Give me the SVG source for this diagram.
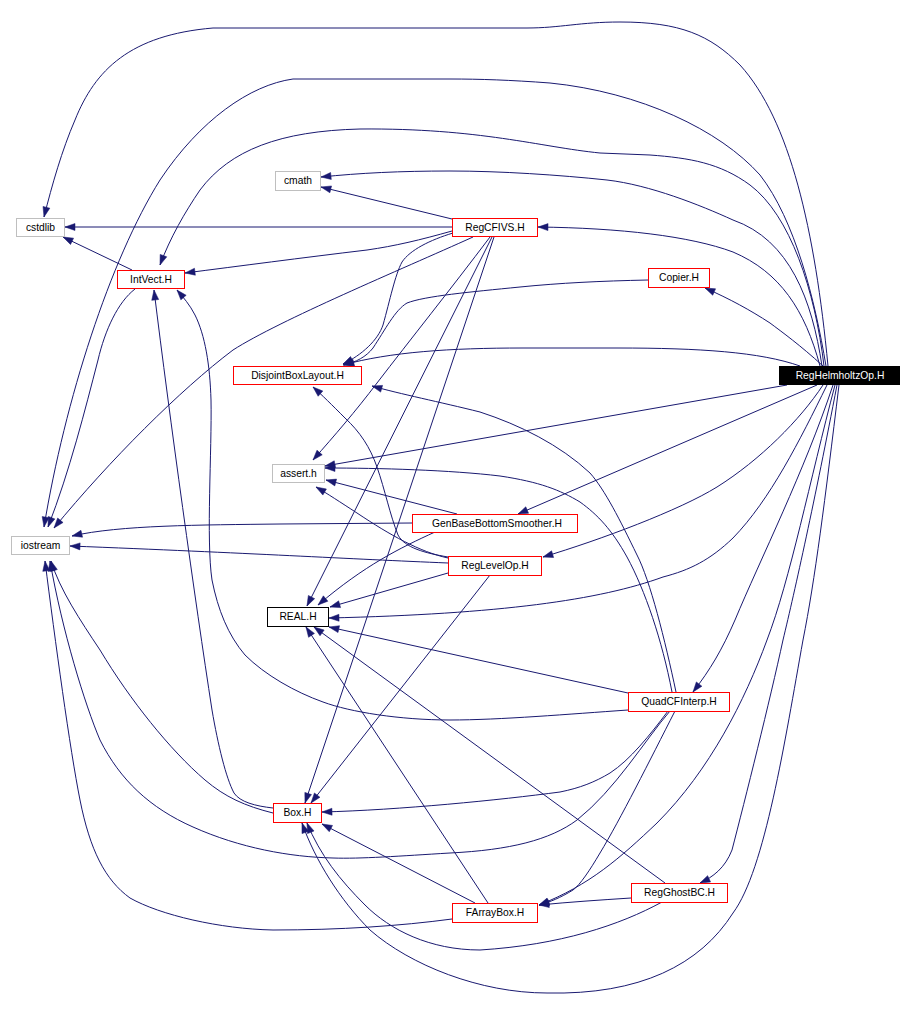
<svg xmlns="http://www.w3.org/2000/svg" width="912" height="1025" viewBox="0 0 912 1025">
<style>
.e{fill:none;stroke:#191970;stroke-width:1;marker-end:url(#a)}
.n rect{fill:#fff;stroke-width:1}
.r rect{stroke:#ff0000}
.g rect{stroke:#bfbfbf}
.k rect{stroke:#000}
text{font-family:"Liberation Sans",Arial,Helvetica,sans-serif;font-size:10.3px;text-anchor:middle;fill:#000}
</style>
<defs>
<marker id="a" markerUnits="userSpaceOnUse" markerWidth="10" markerHeight="8" refX="10" refY="4" orient="auto" overflow="visible">
<path d="M0,0.5 L10,4 L0,7.5 z" fill="#191970" stroke="#191970" stroke-width="0.5"/>
</marker>
</defs>
<rect width="912" height="1025" fill="#fff"/>
<g id="edges">
<!-- RegHelmholtzOp.H -->
<path class="e" d="M828,366 C815,230 790,120 740,65 C710,35 680,22 620,22 C580,22 560,28 527,28 L213,28 C130,35 95,70 75,120 C62,150 52,185 44,217"/>
<path class="e" d="M826,366 C815,300 795,220 760,175 C720,130 640,92 550,83 C510,80 480,79 450,79 L293,79 C250,85 200,120 160,180 C110,260 65,400 44,527"/>
<path class="e" d="M824,366 C815,290 790,215 750,185 C720,163 690,158 650,155 L600,153 C540,147 480,128 360,129 C280,131 230,150 200,190 C185,212 170,238 160,265"/>
<path class="e" d="M822,366 C812,300 790,240 733,220 C700,205 650,185 607,180 C560,175 500,171 450,171 C400,171 360,173 321,177"/>
<path class="e" d="M820,366 C805,310 780,272 733,252 C690,236 620,228 538,227"/>
<path class="e" d="M823,366 C800,345 782,332 770,323 C750,310 730,299 705,288"/>
<path class="e" d="M800,366 C760,352 700,348 617,348 L523,348 C450,348 390,352 343,365"/>
<path class="e" d="M787,385 L325,466"/>
<path class="e" d="M817,385 L518,514"/>
<path class="e" d="M823,385 C800,420 760,460 717,487 C680,510 600,540 543,557"/>
<path class="e" d="M827,385 C800,440 770,500 733,538 C710,560 690,570 663,577 C600,600 500,614 329,618"/>
<path class="e" d="M833,385 C805,470 760,560 735,620 C722,650 710,670 693,692"/>
<path class="e" d="M835,385 C810,480 790,580 767,640 C745,700 710,770 657,823 C620,858 590,885 539,905"/>
<path class="e" d="M837,385 C815,500 795,590 783,640 C770,700 745,800 732,850 C725,868 713,877 700,883"/>
<path class="e" d="M839,385 C825,500 815,580 803,640 C785,740 765,870 733,913 C700,965 640,995 547,993 C480,993 410,965 370,930 C340,900 315,860 302,823"/>
<!-- RegCFIVS.H -->
<path class="e" d="M452,219 L321,187"/>
<path class="e" d="M452,227 L65,227"/>
<path class="e" d="M452,231 C420,240 395,246 367,250 C300,258 240,266 185,273"/>
<path class="e" d="M453,233 C430,240 410,250 402,262 C395,275 390,300 383,325 C378,340 362,355 343,364"/>
<path class="e" d="M473,237 C400,270 280,320 233,350 C180,390 110,460 54,528"/>
<path class="e" d="M490,237 C450,290 410,340 377,383 C355,412 335,435 313,460"/>
<path class="e" d="M492,237 L307,606"/>
<path class="e" d="M494,237 L305,803"/>
<!-- Copier.H -->
<path class="e" d="M648,280 C600,281 560,283 520,287 C470,292 425,296 407,303 C395,310 385,330 373,348 C366,357 356,362 344,365"/>
<!-- IntVect.H -->
<path class="e" d="M132,270 L63,237"/>
<path class="e" d="M135,289 C118,302 105,330 98,360 C85,410 70,470 48,527"/>
<!-- Box.H -->
<path class="e" d="M273,808 C255,806 240,802 234,793 C226,778 218,745 212,710 C195,600 170,420 154,290"/>
<path class="e" d="M273,813 C245,806 225,797 205,780 C170,750 130,700 100,650 C80,620 60,590 51,561"/>
<!-- GenBaseBottomSmoother.H -->
<path class="e" d="M412,523 L280,524 C200,525 120,525 72,536"/>
<path class="e" d="M457,514 L326,480"/>
<path class="e" d="M435,532 C400,548 365,565 318,605"/>
<!-- RegLevelOp.H -->
<path class="e" d="M448,563 C350,559 250,553 70,546"/>
<path class="e" d="M448,558 C420,552 390,535 357,513 C340,502 328,494 316,487"/>
<path class="e" d="M448,557 C425,553 405,548 398,535 C390,515 385,490 377,467 C370,447 360,432 345,418 C332,405 322,395 313,387"/>
<path class="e" d="M448,573 L330,607"/>
<path class="e" d="M490,575 L311,803"/>
<!-- QuadCFInterp.H -->
<path class="e" d="M676,692 C665,640 650,580 637,555 C620,520 605,490 590,473 C560,445 520,425 480,412 C440,402 400,394 372,386"/>
<path class="e" d="M672,692 C662,640 645,590 627,557 C612,530 598,515 580,502 C560,490 540,482 500,476 C450,470 380,468 325,468"/>
<path class="e" d="M628,693 L329,627"/>
<path class="e" d="M628,710 C570,714 500,720 450,720 C400,720 350,712 323,702 C295,692 265,675 245,655 C228,635 218,610 212,580 C206,540 212,450 211,400 C210,365 205,335 195,315 C190,305 183,297 177,290"/>
<path class="e" d="M668,711 C650,735 630,760 610,773 C595,782 580,788 560,792 C500,800 400,810 322,812"/>
<path class="e" d="M670,711 C645,740 615,790 577,820 C550,840 510,850 450,853 C400,856 360,859 333,858 C290,857 240,848 193,827 C150,808 120,780 100,740 C85,705 62,630 50,561"/>
<path class="e" d="M675,711 C650,760 620,820 600,853 C590,870 580,885 573,890 C560,898 550,902 539,905"/>
<!-- RegGhostBC.H -->
<path class="e" d="M631,898 C600,900 570,902 539,905"/>
<path class="e" d="M665,883 L314,627"/>
<path class="e" d="M662,902 C620,925 560,945 480,950 C430,950 390,930 365,905 C340,880 320,855 307,823"/>
<!-- FArrayBox.H -->
<path class="e" d="M452,919 C400,926 340,930 273,930 C220,929 160,915 130,898 C105,880 90,850 80,800 C70,750 55,640 45,561"/>
<path class="e" d="M488,903 L306,627"/>
<path class="e" d="M475,903 L322,824"/>
</g>
<g id="n_cstdlib" class="n g"><rect x="16.5" y="218.5" width="48" height="18"/><text x="40.5" y="231">cstdlib</text></g>
<g id="n_cmath" class="n g"><rect x="275.5" y="171.5" width="45" height="19"/><text x="298" y="184">cmath</text></g>
<g id="n_IntVect" class="n r"><rect x="117.5" y="270.5" width="67" height="18"/><text x="151" y="283">IntVect.H</text></g>
<g id="n_RegCFIVS" class="n r"><rect x="452.5" y="218.5" width="85" height="18"/><text x="495" y="231">RegCFIVS.H</text></g>
<g id="n_Copier" class="n r"><rect x="648.5" y="268.5" width="61" height="19"/><text x="679" y="281">Copier.H</text></g>
<g id="n_DisjointBoxLayout" class="n r"><rect x="233.5" y="366.5" width="128" height="18"/><text x="297.5" y="379">DisjointBoxLayout.H</text></g>
<g id="n_RegHelmholtzOp"><rect x="779" y="366" width="121" height="19" fill="#000"/><text x="840" y="379" fill="#fff" style="fill:#fff">RegHelmholtzOp.H</text></g>
<g id="n_assert" class="n g"><rect x="272.5" y="464.5" width="52" height="18"/><text x="298.5" y="477">assert.h</text></g>
<g id="n_iostream" class="n g"><rect x="11.5" y="536.5" width="58" height="18"/><text x="40.5" y="549">iostream</text></g>
<g id="n_GenBaseBottomSmoother" class="n r"><rect x="412.5" y="514.5" width="165" height="18"/><text x="497" y="527">GenBaseBottomSmoother.H</text></g>
<g id="n_RegLevelOp" class="n r"><rect x="448.5" y="556.5" width="93" height="19"/><text x="495" y="569">RegLevelOp.H</text></g>
<g id="n_REAL" class="n k"><rect x="267.5" y="607.5" width="61" height="19"/><text x="298" y="620">REAL.H</text></g>
<g id="n_QuadCFInterp" class="n r"><rect x="628.5" y="692.5" width="101" height="19"/><text x="679" y="705">QuadCFInterp.H</text></g>
<g id="n_Box" class="n r"><rect x="273.5" y="803.5" width="48" height="19"/><text x="297.5" y="816">Box.H</text></g>
<g id="n_RegGhostBC" class="n r"><rect x="631.5" y="883.5" width="96" height="19"/><text x="679.5" y="896">RegGhostBC.H</text></g>
<g id="n_FArrayBox" class="n r"><rect x="452.5" y="903.5" width="85" height="19"/><text x="495" y="916">FArrayBox.H</text></g>
</svg>
